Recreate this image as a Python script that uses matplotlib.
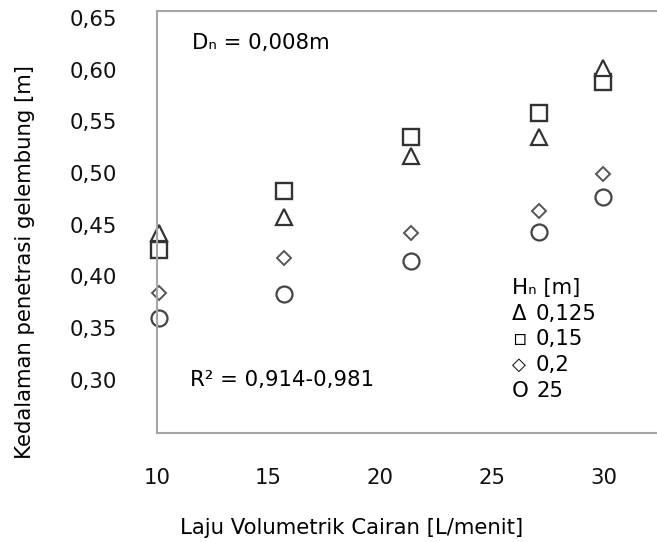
import matplotlib.pyplot as plt

# flow rate [L/menit] and penetration depth [m] per nozzle height
flow = [10.1, 15.7, 21.4, 27.1, 30.0]
depth_0125 = [0.442, 0.458, 0.517, 0.535, 0.602]
depth_015 = [0.426, 0.483, 0.535, 0.558, 0.588]
depth_02 = [0.384, 0.418, 0.442, 0.463, 0.499]
depth_25 = [0.360, 0.383, 0.415, 0.443, 0.477]

x_ticks = [10, 15, 20, 25, 30]
y_ticks = [0.30, 0.35, 0.40, 0.45, 0.50, 0.55, 0.60, 0.65]
legend_title = "Hₙ [m]"
legend_symbols = ["Δ", "▫", "◇", "O"]
legend_values = ["0,125", "0,15", "0,2", "25"]

plt.rcParams["font.family"] = ["DejaVu Sans"]
FS = 15.3
symbol_sizes = [FS, FS, 13, FS]

fig = plt.figure(figsize=(6.57, 5.42), dpi=100)
ax = fig.add_axes([157 / 657, 109 / 542, 500 / 657, 422 / 542])

#order so that triangle sits on top like in the original
ax.plot(flow, depth_25, "o", ms=11.5, mfc="white", mec="#444444", mew=1.6, clip_on=False)
ax.plot(flow, depth_02, "D", ms=7.6, mfc="white", mec="#555555", mew=1.4, clip_on=False)
ax.plot(flow, depth_015, "s", ms=11.5, mfc="white", mec="#333333", mew=1.7, clip_on=False)
ax.plot(flow, depth_0125, "^", ms=11, mfc="white", mec="#333333", mew=1.6, clip_on=False)

ax.set_xlim(10.11, 32.4)
ax.set_ylim(0.2486, 0.6568)
ax.set_xticks(x_ticks)
ax.set_xticklabels([str(t) for t in x_ticks])
ax.set_yticks(y_ticks)
ax.set_yticklabels([f"{t:.2f}".replace(".", ",") for t in y_ticks])
ax.tick_params(axis="both", length=0, labelsize=FS, colors="#111111")
ax.tick_params(axis="y", pad=29)
ax.tick_params(axis="x", pad=25)

for side in ["left", "top", "bottom"]:
    ax.spines[side].set_color("#a6a6a6")
    ax.spines[side].set_linewidth(1.5)
ax.spines["right"].set_visible(False)

ax.text(0.07, 0.924, "Dₙ = 0,008m", transform=ax.transAxes, fontsize=FS, va="center")
ax.text(0.066, 0.1256, "R² = 0,914-0,981", transform=ax.transAxes, fontsize=FS, va="center")

#hand made legend block, symbols and values as separate texts
ax.text(0.71, (433 - 288) / 422, legend_title, transform=ax.transAxes, fontsize=FS, va="center")
for i, (sym, val) in enumerate(zip(legend_symbols, legend_values)):
    ypos = (433 - 288 - 25.7 * (i + 1)) / 422
    ax.text(0.71, ypos, sym, transform=ax.transAxes, fontsize=symbol_sizes[i], va="center")
    ax.text(0.758, ypos, val, transform=ax.transAxes, fontsize=FS, va="center")

fig.text(352 / 657, 1 - 528 / 542, "Laju Volumetrik Cairan [L/menit]",
         fontsize=FS, ha="center", va="center")
fig.text(25 / 657, 1 - 262 / 542, "Kedalaman penetrasi gelembung [m]",
         fontsize=FS, ha="center", va="center", rotation=90)

fig.savefig("out.png", dpi=100)
